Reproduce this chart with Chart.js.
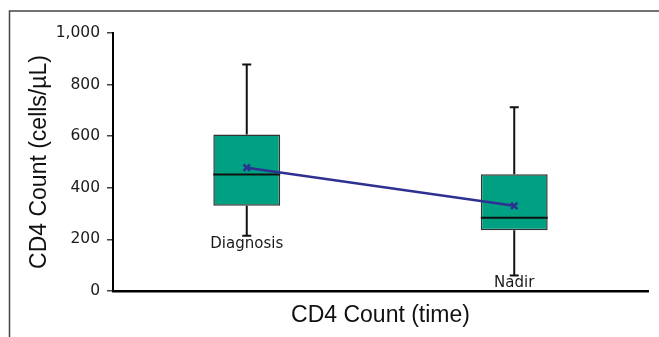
<!DOCTYPE html>
<html>
<head>
<meta charset="utf-8">
<script src="https://cdn.jsdelivr.net/npm/chart.js@4/dist/chart.umd.min.js"></script>
<style>
  html, body { margin: 0; padding: 0; background: #fff; overflow: hidden; }
  #wrap { width: 659px; height: 337px; position: relative; }
</style>
</head>
<body>
<div id="wrap"><canvas id="c" width="659" height="337"></canvas></div>
<script>
const categories = ['Diagnosis', 'Nadir'];
const whiskerMin = [214, 60];
const q1 = [330, 235];
const median = [452, 284];
const q3 = [607, 453];
const whiskerMax = [878, 712];
const mean = [478, 330];
const yTicks = [0, 200, 400, 600, 800, 1000];

const frame = {
  id: 'frame',
  beforeDraw(chart) {
    const ctx = chart.ctx;
    ctx.save();
    ctx.strokeStyle = '#444';
    ctx.lineWidth = 1.5;
    ctx.beginPath();
    ctx.moveTo(9.5, 337);
    ctx.lineTo(9.5, 11);
    ctx.lineTo(659, 11);
    ctx.stroke();
    ctx.restore();
  }
};

const boxExtras = {
  id: 'boxExtras',
  afterDatasetDraw(chart, args) {
    if (args.index !== 0) return;
    const ctx = chart.ctx;
    const x = chart.scales.x, y = chart.scales.y;
    const meta = chart.getDatasetMeta(0);
    ctx.save();
    ctx.strokeStyle = '#111';
    ctx.lineWidth = 2;
    categories.forEach((c, i) => {
      const cx = x.getPixelForValue(i);
      const bar = meta.data[i];
      const half = bar.width / 2;
      const pMin = y.getPixelForValue(whiskerMin[i]);
      const pMax = y.getPixelForValue(whiskerMax[i]);
      const pQ1 = y.getPixelForValue(q1[i]);
      const pQ3 = y.getPixelForValue(q3[i]);
      const pMed = y.getPixelForValue(median[i]);
      ctx.beginPath();
      ctx.moveTo(cx, pQ3); ctx.lineTo(cx, pMax);
      ctx.moveTo(cx - 4.5, pMax); ctx.lineTo(cx + 4.5, pMax);
      ctx.moveTo(cx, pQ1); ctx.lineTo(cx, pMin);
      ctx.moveTo(cx - 4.5, pMin); ctx.lineTo(cx + 4.5, pMin);
      ctx.moveTo(cx - half, pMed); ctx.lineTo(cx + half, pMed);
      ctx.stroke();
      ctx.fillStyle = '#1a1a1a';
      ctx.font = '15px "DejaVu Sans"';
      ctx.textAlign = 'center';
      ctx.textBaseline = 'top';
      ctx.fillText(c, cx, pMin + 0.5);
    });
    ctx.restore();
  }
};

new Chart(document.getElementById('c'), {
  type: 'bar',
  data: {
    labels: categories,
    datasets: [
      {
        type: 'bar',
        label: 'IQR',
        data: categories.map((c, i) => [q1[i], q3[i]]),
        backgroundColor: '#00A082',
        borderColor: '#333',
        borderWidth: 1.5,
        borderSkipped: false,
        categoryPercentage: 1.0,
        barPercentage: 0.25,
        order: 2
      },
      {
        type: 'line',
        label: 'Mean',
        data: mean,
        borderColor: '#2E3192',
        borderWidth: 2.5,
        pointStyle: 'crossRot',
        pointRadius: 4.5,
        pointBorderWidth: 2.5,
        pointBorderColor: '#2E3192',
        pointBackgroundColor: '#2E3192',
        fill: false,
        order: 1
      }
    ]
  },
  options: {
    responsive: false,
    animation: false,
    events: [],
    layout: { padding: { top: 33, right: 11, left: 0, bottom: 0 } },
    plugins: { legend: { display: false }, tooltip: { enabled: false } },
    scales: {
      x: {
        offset: true,
        grid: { display: false },
        border: { display: true, color: '#000', width: 2.5 },
        ticks: { display: false },
        title: {
          display: true,
          text: 'CD4 Count (time)',
          color: '#111',
          font: { family: '"Liberation Sans", Arial, sans-serif', size: 23 },
          padding: { top: 0, bottom: 8 }
        },
        afterFit(s) { s.height = 46; }
      },
      y: {
        min: 0,
        max: 1000,
        afterBuildTicks(s) { s.ticks = yTicks.map(v => ({ value: v })); },
        grid: { display: true, drawOnChartArea: false, drawTicks: true, tickLength: 6, color: '#444', lineWidth: 1.5 },
        border: { display: true, color: '#000', width: 2 },
        ticks: {
          color: '#1a1a1a',
          padding: 7,
          font: { family: '"DejaVu Sans", sans-serif', size: 15.5 },
          callback: v => v.toLocaleString('en-US')
        },
        title: {
          display: true,
          text: 'CD4 Count (cells/µL)',
          color: '#111',
          font: { family: '"Liberation Sans", Arial, sans-serif', size: 23 },
          padding: { top: 26, bottom: 0 }
        },
        afterFit(s) { s.width = 113; }
      }
    }
  },
  plugins: [frame, boxExtras]
});
</script>
</body>
</html>
